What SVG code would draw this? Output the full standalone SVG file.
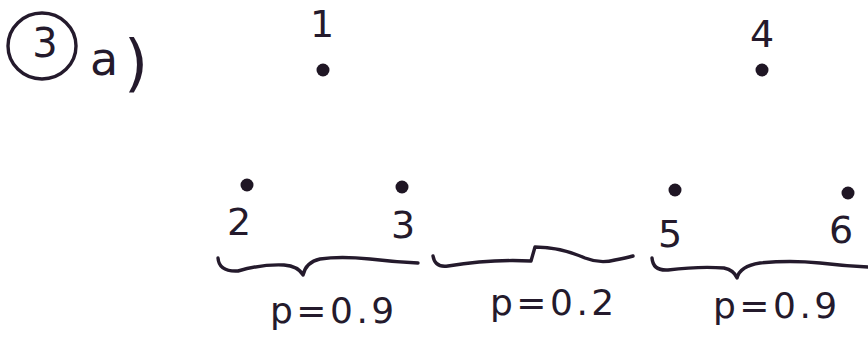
<svg xmlns="http://www.w3.org/2000/svg" width="868" height="346" viewBox="0 0 868 346">
<style>
.t{font-family:"DejaVu Sans","Liberation Sans",sans-serif;fill:#241a2c}
.d{fill:#1f1624}
.b{fill:none;stroke:#241a2c;stroke-width:3.4;stroke-linecap:round;stroke-linejoin:round}
.n{font-size:38px;text-anchor:middle}
.p{font-size:36px;letter-spacing:3.5px}
</style>
<rect width="868" height="346" fill="#fff"/>
<g id="title">
<ellipse cx="42" cy="46" rx="34" ry="33" class="b"/>
<text x="45" y="57" class="t" font-size="40" text-anchor="middle">3</text>
<text x="90" y="75" class="t" font-size="46">a</text>
<text x="124" y="84" class="t" font-size="62">)</text>
</g>
<g id="node1"><circle cx="323" cy="70" r="6.5" class="d"/><text x="322" y="37" class="t n">1</text></g>
<g id="node4"><circle cx="762" cy="70" r="6.5" class="d"/><text x="762" y="47" class="t n" font-size="44">4</text></g>
<g id="node2"><circle cx="247" cy="185" r="6.5" class="d"/><text x="239" y="235" class="t n">2</text></g>
<g id="node3"><circle cx="402" cy="187" r="6.5" class="d"/><text x="403" y="238" class="t n">3</text></g>
<g id="node5"><circle cx="675" cy="190" r="6.5" class="d"/><text x="670" y="247" class="t n">5</text></g>
<g id="node6"><circle cx="848" cy="193" r="6.5" class="d"/><text x="841" y="243" class="t n">6</text></g>
<g id="connectors">
<path class="b" d="M218 258 Q219 272 238 271 Q262 264 284 265 Q298 266 303 275 Q306 262 320 259 Q340 256 370 259 Q395 262 418 263"/>
<path class="b" d="M433 256 Q435 268 448 266 Q490 259 531 261 L535 247 Q560 247 585 258 Q600 264 615 260 Q626 258 633 256"/>
<path class="b" d="M652 258 Q653 271 668 270 Q700 266 724 268 Q734 270 737 278 Q740 266 760 263 Q790 260 820 263 Q845 266 868 267"/>
</g>
<g id="labels">
<text x="270" y="323" class="t p">p=0.9</text>
<text x="490" y="315" class="t p">p=0.2</text>
<text x="713" y="318" class="t p">p=0.9</text>
</g>
</svg>
